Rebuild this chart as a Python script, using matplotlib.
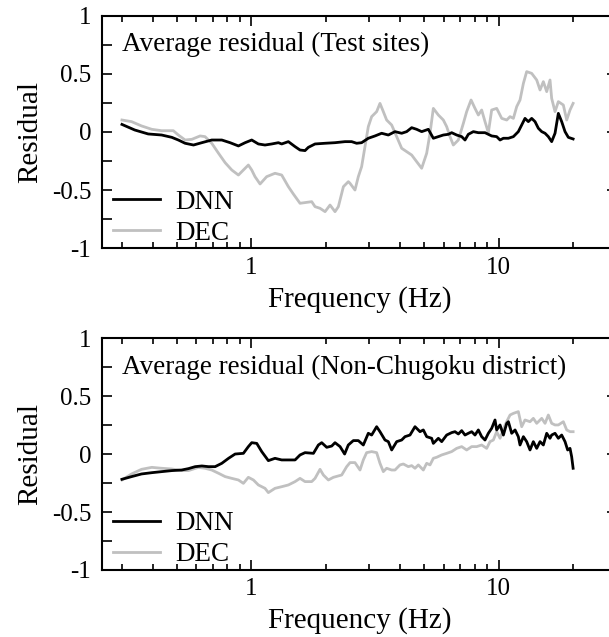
import matplotlib
matplotlib.use("Agg")
import matplotlib.pyplot as plt
from matplotlib.ticker import LogLocator, MultipleLocator, FixedLocator, FixedFormatter, NullFormatter, FuncFormatter

plt.rcParams["font.family"] = ["Liberation Serif", "DejaVu Serif"]

# panel 1: test sites
dnn1_f = [0.30, 0.338, 0.383, 0.434, 0.477, 0.507, 0.540, 0.584, 0.631, 0.692, 0.760, 0.821,
          0.887, 0.944, 1.004, 1.068, 1.136, 1.209, 1.287, 1.327, 1.412, 1.503, 1.574, 1.649,
          1.701, 1.810, 1.987, 2.180, 2.393, 2.545, 2.666, 2.793, 2.972, 3.163, 3.365, 3.581,
          3.810, 4.054, 4.247, 4.450, 4.661, 4.884, 5.197, 5.444, 5.704, 5.975, 6.260, 6.458,
          6.765, 7.088, 7.311, 7.541, 7.901, 8.277, 8.807, 9.371, 9.818, 10.13, 10.45, 10.95,
          11.47, 12.01, 12.39, 12.78, 13.18, 13.60, 14.03, 14.47, 14.93, 15.40, 15.88, 16.38,
          16.90, 17.43, 17.98, 18.55, 19.13, 20.0]
dnn1_r = [0.065, 0.017, -0.017, -0.026, -0.046, -0.069, -0.097, -0.112, -0.092, -0.069, -0.069, -0.092,
          -0.120, -0.092, -0.069, -0.103, -0.112, -0.103, -0.092, -0.103, -0.083, -0.126, -0.155, -0.160,
          -0.132, -0.103, -0.097, -0.092, -0.083, -0.083, -0.097, -0.092, -0.054, -0.034, -0.011, -0.026,
          0.003, -0.011, 0.003, 0.037, 0.023, 0.003, 0.023, -0.054, -0.040, -0.026, -0.020, -0.006,
          -0.026, -0.040, -0.069, -0.020, 0.003, -0.006, -0.006, -0.034, -0.040, -0.069, -0.054, -0.054,
          -0.040, 0.003, 0.060, 0.117, 0.089, 0.117, 0.089, 0.032, 0.003, -0.011, -0.040, -0.083,
          -0.011, 0.160, 0.089, 0.003, -0.046, -0.060]

dec1_f = [0.30, 0.328, 0.360, 0.396, 0.434, 0.484, 0.507, 0.540, 0.575, 0.621, 0.650, 0.692,
          0.737, 0.784, 0.834, 0.887, 0.929, 0.973, 1.004, 1.035, 1.085, 1.154, 1.247, 1.327,
          1.412, 1.479, 1.574, 1.649, 1.755, 1.810, 1.896, 1.987, 2.081, 2.180, 2.249, 2.357,
          2.468, 2.506, 2.625, 2.708, 2.793, 2.881, 2.972, 3.066, 3.212, 3.313, 3.418, 3.525,
          3.694, 3.870, 4.054, 4.247, 4.450, 4.661, 4.884, 5.117, 5.278, 5.444, 5.704, 5.975,
          6.164, 6.358, 6.558, 6.871, 7.199, 7.425, 7.735, 8.024, 8.277, 8.538, 8.807, 9.085,
          9.371, 9.818, 10.29, 10.78, 11.12, 11.47, 11.83, 12.20, 12.59, 12.98, 13.60, 14.25,
          14.70, 15.16, 15.64, 16.13, 16.38, 16.90, 17.43, 18.26, 18.84, 19.43, 20.0]
dec1_r = [0.103, 0.089, 0.052, 0.023, 0.011, 0.011, -0.026, -0.069, -0.063, -0.034, -0.040, -0.097,
          -0.183, -0.264, -0.327, -0.370, -0.327, -0.284, -0.327, -0.384, -0.447, -0.384, -0.355, -0.370,
          -0.470, -0.533, -0.613, -0.607, -0.599, -0.642, -0.656, -0.685, -0.628, -0.685, -0.642, -0.470,
          -0.427, -0.441, -0.499, -0.384, -0.298, -0.126, 0.046, 0.132, 0.175, 0.246, 0.175, 0.103,
          0.060, -0.040, -0.140, -0.169, -0.198, -0.255, -0.312, -0.183, -0.011, 0.203, 0.146, 0.103,
          0.046, -0.040, -0.112, -0.069, 0.074, 0.175, 0.275, 0.203, 0.146, 0.189, 0.089, -0.006,
          0.189, 0.203, 0.117, 0.103, 0.132, 0.117, 0.218, 0.275, 0.418, 0.519, 0.504, 0.447,
          0.361, 0.433, 0.347, 0.447, 0.289, 0.175, 0.261, 0.232, 0.103, 0.189, 0.246]

# panel 2: non-Chugoku district
dnn2_f = [0.30, 0.328, 0.360, 0.396, 0.434, 0.477, 0.523, 0.557, 0.593, 0.631, 0.671, 0.714,
          0.760, 0.809, 0.860, 0.929, 0.973, 1.004, 1.052, 1.102, 1.172, 1.247, 1.327, 1.412,
          1.503, 1.574, 1.649, 1.783, 1.867, 1.926, 2.018, 2.114, 2.180, 2.285, 2.384, 2.467,
          2.585, 2.708, 2.837, 2.972, 3.066, 3.212, 3.313, 3.471, 3.581, 3.694, 3.870, 4.054,
          4.182, 4.381, 4.590, 4.809, 4.960, 5.117, 5.360, 5.444, 5.704, 5.884, 6.164, 6.458,
          6.661, 6.871, 7.088, 7.311, 7.541, 7.779, 8.024, 8.277, 8.538, 8.807, 9.085, 9.371,
          9.667, 9.818, 10.13, 10.45, 10.78, 10.95, 11.29, 11.65, 12.01, 12.20, 12.59, 12.98,
          13.39, 13.81, 14.25, 14.70, 15.16, 15.64, 16.13, 16.38, 16.90, 17.43, 17.98, 18.55,
          19.01, 19.43, 19.73, 20.0]
dnn2_r = [-0.217, -0.194, -0.171, -0.160, -0.151, -0.142, -0.137, -0.125, -0.108, -0.102, -0.108, -0.108,
          -0.079, -0.036, 0.001, 0.007, 0.065, 0.099, 0.093, 0.022, -0.056, -0.036, -0.050, -0.050,
          -0.050, -0.007, 0.013, 0.007, 0.079, 0.099, 0.059, 0.070, 0.099, 0.065, 0.001, 0.079,
          0.117, 0.117, 0.079, 0.180, 0.165, 0.237, 0.194, 0.122, 0.108, 0.036, 0.108, 0.122,
          0.151, 0.165, 0.237, 0.194, 0.209, 0.151, 0.137, 0.093, 0.137, 0.108, 0.165, 0.186,
          0.194, 0.174, 0.203, 0.165, 0.180, 0.194, 0.165, 0.209, 0.151, 0.122, 0.180, 0.223,
          0.295, 0.209, 0.252, 0.165, 0.266, 0.280, 0.180, 0.209, 0.151, 0.079, 0.151, 0.108,
          0.036, 0.108, 0.050, 0.108, 0.079, 0.180, 0.137, 0.165, 0.180, 0.137, 0.165, 0.108,
          0.036, 0.050, -0.022, -0.122]

dec2_f = [0.30, 0.328, 0.360, 0.396, 0.434, 0.477, 0.523, 0.557, 0.611, 0.650, 0.692, 0.737,
          0.784, 0.834, 0.887, 0.929, 0.973, 1.020, 1.068, 1.136, 1.172, 1.247, 1.327, 1.412,
          1.503, 1.574, 1.649, 1.755, 1.810, 1.896, 1.956, 2.049, 2.147, 2.249, 2.320, 2.430,
          2.507, 2.625, 2.751, 2.837, 2.926, 3.066, 3.212, 3.313, 3.418, 3.525, 3.694, 3.810,
          3.991, 4.118, 4.314, 4.450, 4.590, 4.735, 4.960, 5.117, 5.278, 5.444, 5.616, 5.884,
          6.164, 6.458, 6.765, 7.088, 7.425, 7.779, 8.150, 8.538, 8.945, 9.227, 9.518, 9.818,
          10.13, 10.61, 11.12, 11.47, 12.01, 12.39, 12.78, 13.39, 13.81, 14.25, 14.93, 15.40,
          15.88, 16.38, 16.90, 17.43, 18.26, 18.84, 19.43, 20.0]
dec2_r = [-0.223, -0.171, -0.131, -0.114, -0.122, -0.128, -0.142, -0.142, -0.114, -0.122, -0.137, -0.165,
          -0.194, -0.209, -0.223, -0.252, -0.200, -0.223, -0.266, -0.295, -0.332, -0.295, -0.281, -0.266,
          -0.237, -0.209, -0.237, -0.237, -0.209, -0.131, -0.180, -0.223, -0.200, -0.188, -0.180, -0.108,
          -0.073, -0.073, -0.137, -0.050, 0.013, 0.022, 0.013, -0.079, -0.151, -0.122, -0.137, -0.137,
          -0.093, -0.085, -0.108, -0.099, -0.122, -0.093, -0.137, -0.079, -0.093, -0.036, -0.027, -0.007,
          0.007, 0.022, 0.050, 0.065, 0.036, 0.065, 0.065, 0.079, 0.050, 0.108, 0.122, 0.194,
          0.137, 0.252, 0.338, 0.352, 0.367, 0.237, 0.295, 0.280, 0.309, 0.266, 0.309, 0.266,
          0.338, 0.266, 0.252, 0.252, 0.280, 0.209, 0.194, 0.194]

panels = [
    ("Average residual (Test sites)", dnn1_f, dnn1_r, dec1_f, dec1_r),
    ("Average residual (Non-Chugoku district)", dnn2_f, dnn2_r, dec2_f, dec2_r),
]

fig = plt.figure(figsize=(6.09, 6.37), dpi=100)
ax1 = fig.add_axes([0.1681, 0.6102, 0.8445, 0.3652])
ax2 = fig.add_axes([0.1681, 0.1052, 0.8445, 0.3637])

for ax, (title, fa, ra, fb, rb) in zip([ax1, ax2], panels):
    ax.plot(fa, ra, color="black", lw=2.0, label="DNN", zorder=3)
    ax.plot(fb, rb, color="#c0c0c0", lw=2.0, label="DEC", zorder=2)
    ax.set_xscale("log")
    ax.set_xlim(0.25, 30)
    ax.set_ylim(-1, 1)
    ax.xaxis.set_major_locator(FixedLocator([1, 10]))
    ax.xaxis.set_major_formatter(FixedFormatter(["1", "10"]))
    ax.xaxis.set_minor_locator(LogLocator(base=10, subs=[2, 3, 4, 5, 6, 7, 8, 9]))
    ax.xaxis.set_minor_formatter(NullFormatter())
    ax.yaxis.set_major_locator(MultipleLocator(0.5))
    ax.yaxis.set_minor_locator(MultipleLocator(0.25))
    ax.yaxis.set_major_formatter(FuncFormatter(lambda v, p: "{:g}".format(v)))
    ax.tick_params(axis="both", which="both", direction="in", labelsize=18, width=1.2)
    ax.tick_params(axis="x", which="major", length=7, top=True, pad=6)
    ax.tick_params(axis="x", which="minor", length=4, top=True)
    ax.tick_params(axis="y", which="major", length=7, right=True, pad=8)
    ax.tick_params(axis="y", which="minor", length=7, right=False)
    for s in ax.spines.values():
        s.set_linewidth(1.5)
    ax.set_xlabel("Frequency (Hz)", fontsize=21, labelpad=5)
    ax.set_ylabel("Residual", fontsize=21, labelpad=6)
    ax.text(0.038, 0.875, title, transform=ax.transAxes, fontsize=19.5, va="center", ha="left")
    ax.legend(loc="lower left", bbox_to_anchor=(0.02, 0.012), frameon=False, fontsize=19.5,
              handlelength=1.75, handletextpad=0.55, labelspacing=0.22, borderaxespad=0.0,
              borderpad=0.0)

fig.savefig("out.png", dpi=100)
